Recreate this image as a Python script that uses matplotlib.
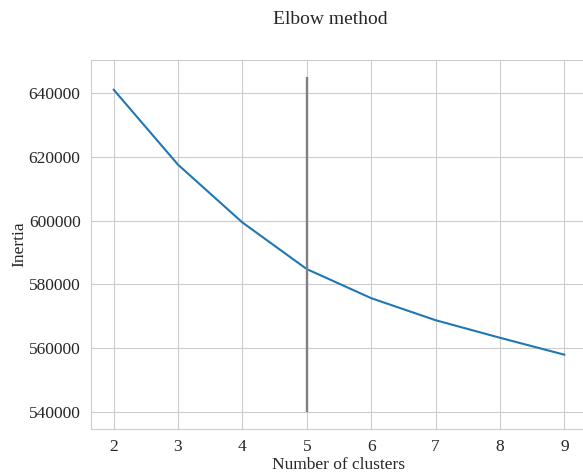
import matplotlib
matplotlib.use("Agg")
import matplotlib.pyplot as plt
import seaborn as sns

clusters = [2, 3, 4, 5, 6, 7, 8, 9]
inertia = [641000, 617500, 599400, 584800, 575700, 568800, 563300, 558000]
elbow_k = 5
vline_range = [540000, 645000]

sns.set_style("whitegrid")
plt.rcParams['font.family'] = ['Liberation Serif', 'DejaVu Serif']

fig = plt.figure(figsize=(5.83, 4.74), dpi=100)
W, H = 583, 474
ax = fig.add_axes([91 / W, 1 - 429 / H, (587 - 91) / W, (429 - 60) / H])

ax.plot(clusters, inertia, color='#1f77b4', lw=1.5)
ax.vlines(elbow_k, vline_range[0], vline_range[1], color='grey', lw=1.7)

ax.set_yticks([540000, 560000, 580000, 600000, 620000, 640000])
ax.set_xticks(clusters)
ax.tick_params(labelsize=12.5, pad=4)
ax.set_xlabel("Number of clusters", fontsize=12.5, labelpad=1)
ax.set_ylabel("Inertia", fontsize=12.5, labelpad=1)
fig.text(330 / W, 1 - 19 / H, "Elbow method", fontsize=14, ha='center', va='center')

fig.savefig("out.png", dpi=100)
